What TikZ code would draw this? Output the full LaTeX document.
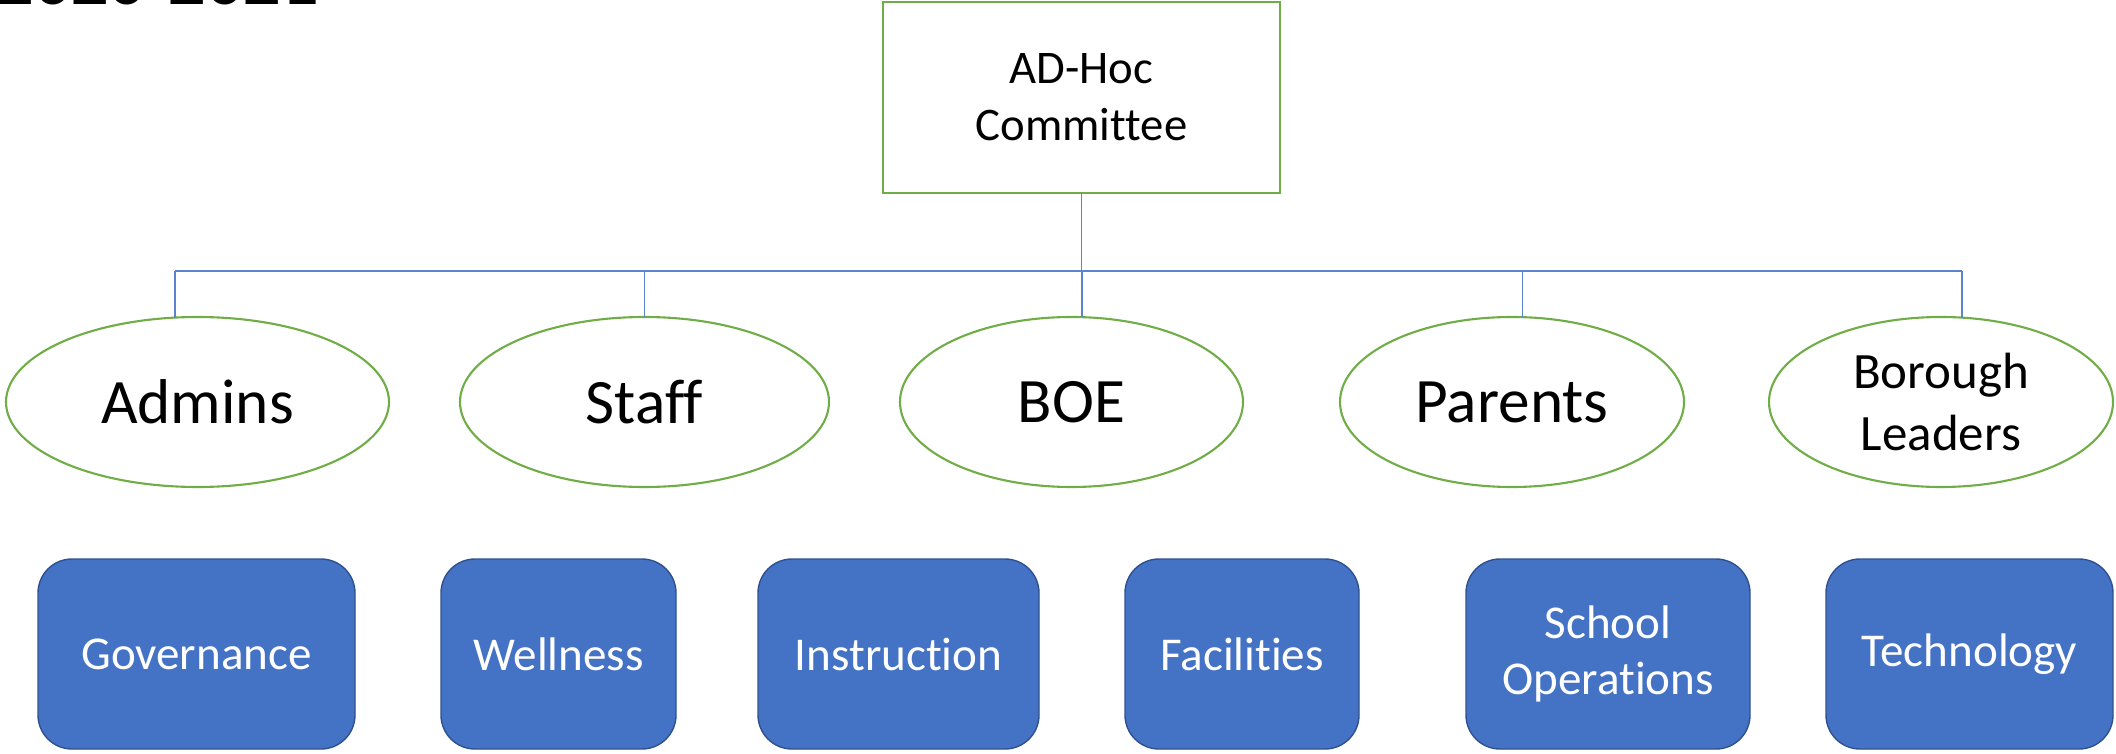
\documentclass[tikz,border=0pt]{standalone}
\usepackage{fontspec}
\setmainfont{Carlito}[Ligatures=CommonOff]
\usepackage{tikz}
\usetikzlibrary{positioning}
\usetikzlibrary{shapes}
\definecolor{mygreen}{HTML}{70AD47}
\definecolor{myblue}{HTML}{4472C4}
\definecolor{mydarkblue}{HTML}{2F528F}
\definecolor{mylink}{HTML}{5B83D0}
\tikzset{top node/.style={rectangle,draw=mygreen,line width=0.6pt,minimum width=3.97cm,minimum height=1.91cm,inner sep=0pt,outer sep=0pt,align=center,font=\fontsize{13.3}{16.2}\selectfont},
  group node/.style={ellipse,draw=mygreen,line width=0.6pt,minimum height=1.70cm,inner sep=0pt,outer sep=0pt,align=center,font=\fontsize{18}{22}\selectfont},
  team node/.style={rectangle,rounded corners=0.34cm,fill=myblue,draw=mydarkblue,line width=0.4pt,minimum height=1.90cm,inner sep=0pt,outer sep=0pt,align=center,text=white,font=\fontsize{13.4}{16}\selectfont},
  link/.style={draw=mylink,line width=0.35pt},}

\begin{document}
\begin{tikzpicture}
	\useasboundingbox (0,0) rectangle (21.16,-7.54);
	\node[anchor=base west,inner sep=0pt,font=\bfseries\fontsize{21}{25}\selectfont] (year) at (-0.04,-0.047) {2020-2021};

	\node[top node] (top) at (10.815,-0.975) {AD-Hoc\\Committee};

	\node[group node, minimum width=3.83cm] (admins) at (1.975,-4.02) {Admins};
	\node[group node, minimum width=3.69cm] (staff) [right = 0.71cm of admins] {Staff};
	\node[group node, minimum width=3.43cm] (boe) [right = 0.71cm of staff] {BOE};
	\node[group node, minimum width=3.44cm] (parents) [right = 0.97cm of boe] {Parents};
	\node[group node, minimum width=3.44cm, font=\fontsize{14.5}{17.9}\selectfont] (borough) [right = 0.85cm of parents] {Borough\\Leaders};

	\node[team node, minimum width=3.17cm] (gov) at (1.965,-6.54) {Governance};
	\node[team node, minimum width=2.35cm] (well) [right = 0.86cm of gov] {Wellness};
	\node[team node, minimum width=2.81cm] (instr) [right = 0.82cm of well] {Instruction};
	\node[team node, minimum width=2.34cm] (fac) [right = 0.86cm of instr] {Facilities};
	\node[team node, minimum width=2.84cm] (ops) [right = 1.07cm of fac] {School\\Operations};
	\node[team node, minimum width=2.87cm] (tech) [right = 0.76cm of ops] {Technology};

	\coordinate (bus) at (0,-2.71);
	\path[link] (top.south) -- (top.south |- bus);
	\path[link] (admins.105 |- bus) -- (borough.76 |- bus);
	\foreach \g/\a in {admins/105, staff/90, boe/83, parents/83, borough/76}
	    \path[link] (\g.\a) -- (\g.\a |- bus);
\end{tikzpicture}
\end{document}
